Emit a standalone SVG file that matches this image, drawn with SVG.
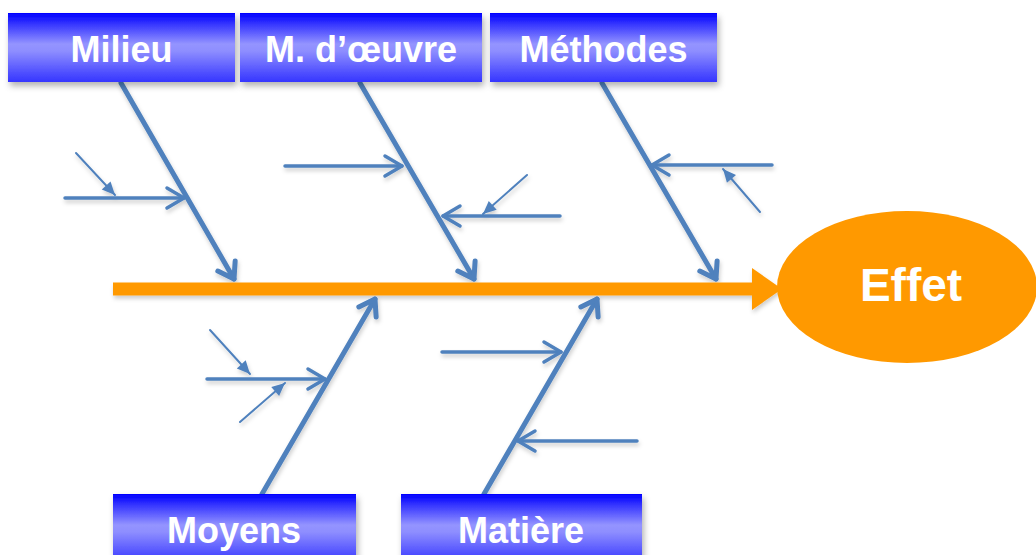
<svg xmlns="http://www.w3.org/2000/svg" width="1036" height="555" viewBox="0 0 1036 555">
<style>
.lbl{font-family:"Liberation Sans",Arial,sans-serif;font-weight:bold;fill:#fff;text-anchor:middle;font-size:36px}
.eff{font-size:46px}
.box{fill:url(#bg);filter:url(#sh)}
.bone{stroke:#4F81BD;stroke-width:5;fill:none;stroke-linecap:round;marker-end:url(#ob)}
.sub{stroke:#4F81BD;stroke-width:3.5;fill:none;stroke-linecap:round;marker-end:url(#om)}
.tiny{stroke:#4F81BD;stroke-width:2;fill:none;stroke-linecap:round;marker-end:url(#fs)}
</style>
<defs>
<linearGradient id="bg" x1="0" y1="0" x2="0" y2="1">
<stop offset="0" stop-color="#0000ff"/>
<stop offset="0.45" stop-color="#9494ff"/>
<stop offset="0.55" stop-color="#8e8eff"/>
<stop offset="1" stop-color="#3535ff"/>
</linearGradient>
<filter id="sh" x="-10%" y="-20%" width="120%" height="150%">
<feDropShadow dx="2" dy="4" stdDeviation="3" flood-color="#000" flood-opacity="0.3"/>
</filter>
<filter id="lsh" x="-20%" y="-20%" width="140%" height="140%">
<feDropShadow dx="1" dy="3" stdDeviation="2" flood-color="#000" flood-opacity="0.2"/>
</filter>
<marker id="ob" markerUnits="userSpaceOnUse" viewBox="-24 -14 28 28" markerWidth="28" markerHeight="28" refX="0" refY="0" orient="auto" overflow="visible">
<path d="M-15,-10 L0,0 L-15,10" fill="none" stroke="#4F81BD" stroke-width="5" stroke-linecap="round" stroke-linejoin="round"/>
</marker>
<marker id="om" markerUnits="userSpaceOnUse" viewBox="-24 -14 28 28" markerWidth="28" markerHeight="28" refX="0" refY="0" orient="auto" overflow="visible">
<path d="M-17,-10 L0,0 L-17,10" fill="none" stroke="#4F81BD" stroke-width="3.5" stroke-linecap="round" stroke-linejoin="round"/>
</marker>
<marker id="fs" markerUnits="userSpaceOnUse" viewBox="-16 -10 20 20" markerWidth="20" markerHeight="20" refX="0" refY="0" orient="auto" overflow="visible">
<path d="M-13,-6 L0,0 L-13,6 z" fill="#4F81BD"/>
</marker>
</defs>
<g id="connectors" filter="url(#lsh)">
<line x1="113" y1="289" x2="760" y2="289" stroke="#FF9900" stroke-width="13"/>
<polygon points="752,268 782,289 752,310" fill="#FF9900"/>
<line class="bone" x1="121" y1="83" x2="234" y2="279"/>
<line class="bone" x1="360" y1="83" x2="474" y2="279"/>
<line class="bone" x1="602" y1="83" x2="716" y2="279"/>
<line class="bone" x1="262" y1="494" x2="375" y2="299"/>
<line class="bone" x1="484" y1="494" x2="597" y2="299"/>
<line class="sub" x1="65" y1="198" x2="184" y2="198"/>
<line class="sub" x1="285" y1="166" x2="402" y2="166"/>
<line class="sub" x1="560" y1="216" x2="443" y2="216"/>
<line class="sub" x1="772" y1="165" x2="652" y2="165"/>
<line class="sub" x1="207" y1="379" x2="325" y2="379"/>
<line class="sub" x1="442" y1="352" x2="561" y2="352"/>
<line class="sub" x1="637" y1="441" x2="518" y2="441"/>
<line class="tiny" x1="76" y1="153" x2="115" y2="195"/>
<line class="tiny" x1="527" y1="175" x2="483" y2="214"/>
<line class="tiny" x1="760" y1="212" x2="723" y2="169"/>
<line class="tiny" x1="210" y1="330" x2="250" y2="374"/>
<line class="tiny" x1="240" y1="422" x2="285" y2="383"/>
</g>
<g id="node-effet">
<ellipse cx="907" cy="287" rx="130" ry="76" fill="#FF9900"/>
<text class="lbl eff" x="911" y="301">Effet</text>
</g>
<g id="node-milieu">
<rect class="box" x="8" y="13" width="227" height="69"/>
<text class="lbl" x="121.5" y="62">Milieu</text>
</g>
<g id="node-main-oeuvre">
<rect class="box" x="240" y="13" width="242" height="69"/>
<text class="lbl" x="361" y="62">M. d’œuvre</text>
</g>
<g id="node-methodes">
<rect class="box" x="490" y="13" width="227" height="69"/>
<text class="lbl" x="603.5" y="62">Méthodes</text>
</g>
<g id="node-moyens">
<rect class="box" x="113" y="494" width="243" height="69"/>
<text class="lbl" x="234" y="543">Moyens</text>
</g>
<g id="node-matiere">
<rect class="box" x="401" y="494" width="241" height="69"/>
<text class="lbl" x="521" y="543">Matière</text>
</g>
</svg>
